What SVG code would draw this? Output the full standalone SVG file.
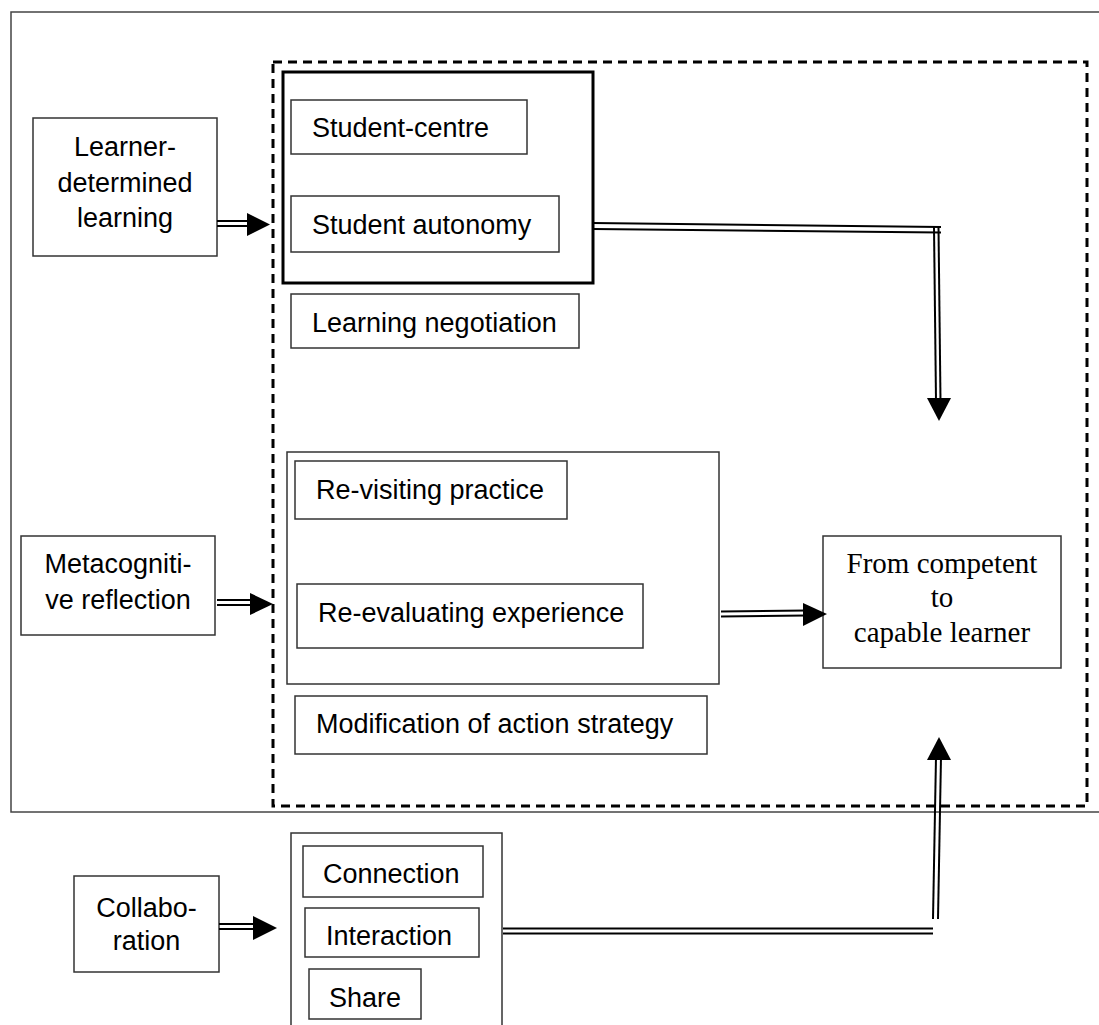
<svg xmlns="http://www.w3.org/2000/svg" width="1099" height="1025" viewBox="0 0 1099 1025">
<style>
  .frame{fill:none;stroke:#444;stroke-width:1.5}
  .dash{fill:none;stroke:#000;stroke-width:3;stroke-dasharray:9 6}
  .bold{fill:none;stroke:#000;stroke-width:3}
  .box{fill:#fff;stroke:#333;stroke-width:1.5}
  .grp{fill:none;stroke:#333;stroke-width:1.5}
  .t{font-family:"Liberation Sans",Arial,sans-serif;font-size:27px;fill:#000}
  .c{text-anchor:middle}
  .s{font-family:"Liberation Serif","Times New Roman",serif;font-size:29px;fill:#000;text-anchor:middle}
  .dl{stroke:#000;stroke-width:2;fill:none}
  .head{fill:#000}
</style>
<rect width="1099" height="1025" fill="#fff"/>
<rect class="frame" x="11" y="12" width="1100" height="800"/>
<rect class="dash" x="273" y="62" width="814" height="744"/>

<g id="learner-determined">
  <rect class="box" x="33" y="118" width="184" height="138"/>
  <text class="t c" x="125" y="156">Learner-</text>
  <text class="t c" x="125" y="192">determined</text>
  <text class="t c" x="125" y="227">learning</text>
</g>
<g id="metacognitive">
  <rect class="box" x="21" y="536" width="194" height="99"/>
  <text class="t c" x="118" y="573">Metacogniti-</text>
  <text class="t c" x="118" y="609">ve reflection</text>
</g>
<g id="collaboration">
  <rect class="box" x="74" y="876" width="145" height="96"/>
  <text class="t c" x="146.5" y="917">Collabo-</text>
  <text class="t c" x="146.5" y="950">ration</text>
</g>

<g id="student-group">
  <rect class="bold" x="283" y="72" width="310" height="211"/>
  <g id="student-centre">
    <rect class="box" x="291" y="100" width="236" height="54"/>
    <text class="t" x="312" y="137">Student-centre</text>
  </g>
  <g id="student-autonomy">
    <rect class="box" x="291" y="196" width="268" height="56"/>
    <text class="t" x="312" y="234">Student autonomy</text>
  </g>
</g>
<g id="learning-negotiation">
  <rect class="box" x="291" y="294" width="288" height="54"/>
  <text class="t" x="312" y="332">Learning negotiation</text>
</g>

<g id="reflection-group">
  <rect class="grp" x="287" y="452" width="432" height="232"/>
  <g id="revisiting">
    <rect class="box" x="295" y="461" width="272" height="58"/>
    <text class="t" x="316" y="499">Re-visiting practice</text>
  </g>
  <g id="reevaluating">
    <rect class="box" x="297" y="584" width="346" height="64"/>
    <text class="t" x="318" y="622">Re-evaluating experience</text>
  </g>
</g>
<g id="modification">
  <rect class="box" x="295" y="696" width="412" height="58"/>
  <text class="t" x="316" y="733">Modification of action strategy</text>
</g>

<g id="capable-learner">
  <rect class="box" x="823" y="536" width="238" height="132"/>
  <text class="s" x="942" y="573">From competent</text>
  <text class="s" x="942" y="607">to</text>
  <text class="s" x="942" y="642">capable learner</text>
</g>

<g id="collab-group">
  <rect class="grp" x="291" y="833" width="211" height="220"/>
  <g id="connection">
    <rect class="box" x="303" y="846" width="180" height="51"/>
    <text class="t" x="323" y="883">Connection</text>
  </g>
  <g id="interaction">
    <rect class="box" x="305" y="908" width="174" height="49"/>
    <text class="t" x="326" y="945">Interaction</text>
  </g>
  <g id="share">
    <rect class="box" x="309" y="969" width="112" height="50"/>
    <text class="t" x="329" y="1007">Share</text>
  </g>
</g>

<g id="connectors">
  <!-- learner-determined -> student group -->
  <line class="dl" x1="217" y1="221" x2="249" y2="221"/>
  <line class="dl" x1="217" y1="226" x2="249" y2="226"/>
  <polygon class="head" points="247,213 270,224.5 247,236"/>
  <!-- metacognitive -> reflection group -->
  <line class="dl" x1="217" y1="600" x2="252" y2="600"/>
  <line class="dl" x1="217" y1="605" x2="252" y2="605"/>
  <polygon class="head" points="250,593 273,604 250,615"/>
  <!-- collaboration -> collab group -->
  <line class="dl" x1="219" y1="924" x2="255" y2="924"/>
  <line class="dl" x1="219" y1="929" x2="255" y2="929"/>
  <polygon class="head" points="253,916 277,928 253,940"/>
  <!-- student group -> capable learner (top) -->
  <line class="dl" x1="593" y1="223" x2="941" y2="227"/>
  <line class="dl" x1="593" y1="229" x2="941" y2="232.5"/>
  <line class="dl" x1="934" y1="227" x2="936" y2="401"/>
  <line class="dl" x1="938.5" y1="227" x2="940.5" y2="401"/>
  <polygon class="head" points="927,398 951,398 939,421"/>
  <!-- reflection group -> capable learner -->
  <line class="dl" x1="721" y1="611.5" x2="806" y2="610.5"/>
  <line class="dl" x1="721" y1="616.5" x2="806" y2="615.5"/>
  <polygon class="head" points="803,603 827,614 803,626"/>
  <!-- collab group -> capable learner (bottom) -->
  <line class="dl" x1="503" y1="928.5" x2="933" y2="928.5"/>
  <line class="dl" x1="503" y1="933.5" x2="933" y2="933.5"/>
  <line class="dl" x1="933" y1="919" x2="936" y2="757"/>
  <line class="dl" x1="938" y1="919" x2="941" y2="757"/>
  <polygon class="head" points="927,760 951,760 939,737"/>
</g>
</svg>
